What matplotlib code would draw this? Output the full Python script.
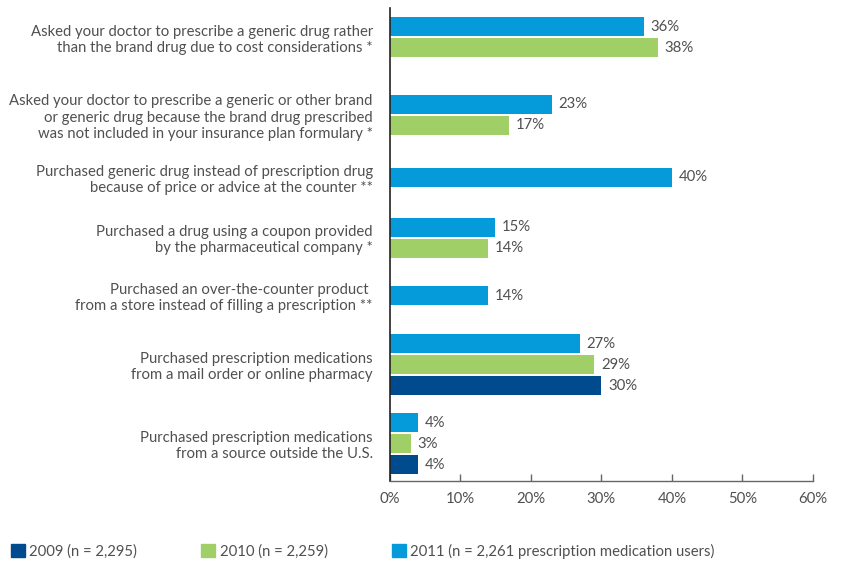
import matplotlib
matplotlib.use("Agg")
import matplotlib.pyplot as plt
from matplotlib.patches import Patch

plt.rcParams['font.family'] = ['Lato', 'DejaVu Sans']

categories = [
    "Asked your doctor to prescribe a generic drug rather\nthan the brand drug due to cost considerations *",
    "Asked your doctor to prescribe a generic or other brand\nor generic drug because the brand drug prescribed\nwas not included in your insurance plan formulary *",
    "Purchased generic drug instead of prescription drug\nbecause of price or advice at the counter **",
    "Purchased a drug using a coupon provided\nby the pharmaceutical company *",
    "Purchased an over-the-counter product \nfrom a store instead of filling a prescription **",
    "Purchased prescription medications\nfrom a mail order or online pharmacy",
    "Purchased prescription medications\nfrom a source outside the U.S.",
]
vals_2011 = [36, 23, 40, 15, 14, 27, 4]
vals_2010 = [38, 17, None, 14, None, 29, 3]
vals_2009 = [None, None, None, None, None, 30, 4]
series_labels = ["2011 (n = 2,261 prescription medication users)",
                 "2010 (n = 2,259)",
                 "2009 (n = 2,295)"]
xticks = [0, 10, 20, 30, 40, 50, 60]

# layout (slot units, one slot per bar)
group_pos = [1.40, 5.09, 8.06, 10.94, 13.69, 16.98, 20.74]
y_extent = 22.52
bar_h = 0.9
colors = ["#059BDB", "#A0CE67", "#004B8D"]
text_col = "#505050"
fs = 10.7

fig = plt.figure(figsize=(8.47, 5.63), dpi=100)
ax = fig.add_axes([389.5/847, 1-481/563, (813-389.5)/847, (481-8)/563])

series = [vals_2011, vals_2010, vals_2009]
for gi, gp in enumerate(group_pos):
    present = [si for si in range(3) if series[si][gi] is not None]
    n = len(present)
    for k, si in enumerate(present):
        y = gp + (k - (n - 1) / 2)
        v = series[si][gi]
        ax.barh(y, v, height=bar_h, color=colors[si], linewidth=0)
        ax.text(v + 0.95, y, f"{v}%", va="center", ha="left",
                fontsize=fs, color=text_col)

ax.set_xlim(0, 60)
ax.set_ylim(y_extent, 0)
ax.set_xticks(xticks)
ax.set_xticklabels([f"{t}%" for t in xticks], fontsize=fs, color=text_col)
ax.set_yticks(group_pos)
ax.set_yticklabels(categories, fontsize=fs, color=text_col,
                   multialignment="right", linespacing=1.2)
ax.tick_params(axis="y", length=0, pad=12)
ax.tick_params(axis="x", direction="in", length=5, width=1, color="#666666", pad=8)
for s in ["top", "right"]:
    ax.spines[s].set_visible(False)
ax.spines["left"].set_color("#222222")
ax.spines["left"].set_linewidth(1.2)
ax.spines["bottom"].set_color("#666666")
ax.spines["bottom"].set_linewidth(1.0)

handles = [Patch(color=colors[2], label=series_labels[2]),
           Patch(color=colors[1], label=series_labels[1]),
           Patch(color=colors[0], label=series_labels[0])]
leg = fig.legend(handles=handles, loc="center left", bbox_to_anchor=(8/847 - 0.002, 1-551/563),
                 ncol=3, frameon=False, fontsize=fs, handlelength=0.95, handleheight=0.95,
                 handletextpad=0.3, columnspacing=4.3, borderaxespad=0, borderpad=0.3)
for t in leg.get_texts():
    t.set_color(text_col)

fig.savefig("out.png", dpi=100)
